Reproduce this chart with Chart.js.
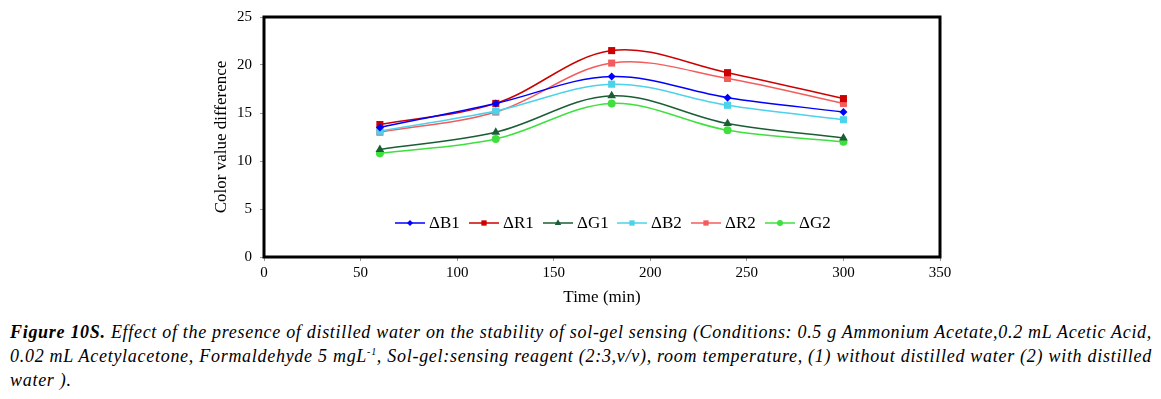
<!DOCTYPE html>
<html>
<head>
<meta charset="utf-8">
<script src="https://cdn.jsdelivr.net/npm/chart.js@4.4.1/dist/chart.umd.min.js"></script>
<style>
  html, body { margin: 0; padding: 0; background: #fff; }
  #wrap { position: relative; width: 1161px; height: 399px; overflow: hidden; }
  #box { position: absolute; left: 0; top: 0; width: 1161px; height: 312px; }
  #caption {
    position: absolute; left: 10px; top: 320px; width: 1150px;
    font-family: "Liberation Serif", "Times New Roman", serif;
    font-style: italic; font-size: 18px; line-height: 24px; color: #000;
  }
  #caption .ln { white-space: nowrap; display: block; }
  #caption .ln span.in { display: inline-block; }
  #caption sup { font-size: 10px; line-height: 0; }
</style>
</head>
<body>
<div id="wrap">
  <div id="box"><canvas id="chart"></canvas></div>
  <div id="caption">
    <div class="ln"><span class="in"><b>Figure 10S.</b> Effect of the presence of distilled water on the stability of sol-gel sensing (Conditions: 0.5 g Ammonium Acetate,0.2 mL Acetic Acid,</span></div>
    <div class="ln"><span class="in">0.02 mL Acetylacetone, Formaldehyde 5 mgL<sup>-1</sup>, Sol-gel:sensing reagent (2:3,v/v), room temperature, (1) without distilled water (2) with distilled</span></div>
    <div class="ln"><span class="in">water ).</span></div>
  </div>
</div>
<script>
// valores
const tiempos = [60, 120, 180, 240, 300];
const deltaB1 = [13.5, 16.0, 18.8, 16.6, 15.1];
const deltaR1 = [13.8, 16.0, 21.5, 19.2, 16.5];
const deltaG1 = [11.2, 13.0, 16.8, 13.9, 12.4];
const deltaB2 = [13.1, 15.2, 18.0, 15.8, 14.3];
const deltaR2 = [13.0, 15.1, 20.2, 18.6, 16.0];
const deltaG2 = [10.8, 12.3, 16.0, 13.2, 12.0];
const xTicks = [0, 50, 100, 150, 200, 250, 300, 350];
const yTicks = [0, 5, 10, 15, 20, 25];

const serif = '"Liberation Serif", "Times New Roman", serif';

// ajustar el ancho del pie de figura (espaciado de letras)
const lineas = document.querySelectorAll('#caption .in');
let espacio = 0;
lineas.forEach((el, i) => {
    if (i < 2) {
        const n = el.textContent.length;
        espacio = (1142 - el.getBoundingClientRect().width) / n;
    }
    el.style.letterSpacing = espacio.toFixed(3) + 'px';
});

function serie(label, data, color, style, radius) {
    return {
        label: label,
        data: tiempos.map((t, i) => ({ x: t, y: data[i] })),
        borderColor: color,
        backgroundColor: color,
        borderWidth: 1.5,
        pointStyle: style,
        pointRadius: radius,
        pointBorderWidth: 0,
        tension: 0.35,
        fill: false
    };
}

// marco negro grueso alrededor del área del gráfico
const marco = {
    id: 'marco',
    afterDraw(chart) {
        const a = chart.chartArea;
        const ctx = chart.ctx;
        ctx.save();
        ctx.strokeStyle = '#000';
        ctx.lineWidth = 3;
        ctx.strokeRect(a.left, a.top, a.right - a.left, a.bottom - a.top);
        ctx.restore();
    }
};

// leyenda dentro del área, línea + marcador
const leyenda = {
    id: 'leyenda',
    afterDraw(chart) {
        const ctx = chart.ctx;
        const a = chart.chartArea;
        const sets = chart.data.datasets;
        const step = 74;
        let x = a.left + 131;
        const y = 223;
        ctx.save();
        ctx.font = '17px ' + serif;
        ctx.textBaseline = 'middle';
        sets.forEach(ds => {
            ctx.strokeStyle = ds.borderColor;
            ctx.lineWidth = 1.5;
            ctx.beginPath();
            ctx.moveTo(x, y);
            ctx.lineTo(x + 30, y);
            ctx.stroke();
            ctx.fillStyle = ds.borderColor;
            Chart.helpers.drawPoint(ctx, { pointStyle: ds.pointStyle, radius: ds.pointRadius * 0.75, borderWidth: 0 }, x + 15, y);
            ctx.fillStyle = '#000';
            ctx.fillText(ds.label, x + 34, y + 1);
            x += step;
        });
        ctx.restore();
    }
};

const ctx = document.getElementById('chart').getContext('2d');
const chart = new Chart(ctx, {
    type: 'line',
    data: {
        datasets: [
            serie('ΔB1', deltaB1, '#0000ff', 'rectRot', 4),
            serie('ΔR1', deltaR1, '#cc0000', 'rect', 5),
            serie('ΔG1', deltaG1, '#1b5e35', 'triangle', 5),
            serie('ΔB2', deltaB2, '#4cd2ea', 'rect', 5),
            serie('ΔR2', deltaR2, '#f45c5c', 'rect', 5),
            serie('ΔG2', deltaG2, '#3ee03e', 'circle', 4)
        ]
    },
    options: {
        responsive: true,
        maintainAspectRatio: false,
        animation: false,
        layout: {
            padding: { left: 211, right: 221, top: 16, bottom: 0 }
        },
        plugins: {
            legend: { display: false },
            tooltip: { enabled: false }
        },
        scales: {
            x: {
                type: 'linear',
                min: 0,
                max: 350,
                afterBuildTicks: s => { s.ticks = xTicks.map(v => ({ value: v })); },
                afterFit: s => { s.height = 55; },
                grid: { drawOnChartArea: false, tickLength: 4, color: '#999' },
                border: { display: false },
                ticks: { color: '#000', font: { family: serif, size: 15 }, padding: 3, maxRotation: 0 },
                title: { display: true, text: 'Time (min)', color: '#000', font: { family: serif, size: 17 }, padding: { top: 0, bottom: 4 } }
            },
            y: {
                min: 0,
                max: 25,
                afterBuildTicks: s => { s.ticks = yTicks.map(v => ({ value: v })); },
                afterFit: s => { s.width = 53; },
                grid: { drawOnChartArea: false, tickLength: 4, color: '#999' },
                border: { display: false },
                ticks: { color: '#000', font: { family: serif, size: 15 }, padding: 8 },
                title: { display: true, text: 'Color value difference', color: '#000', font: { family: serif, size: 17 }, padding: { top: 0, bottom: 0 } }
            }
        }
    },
    plugins: [marco, leyenda]
});
</script>
</body>
</html>
